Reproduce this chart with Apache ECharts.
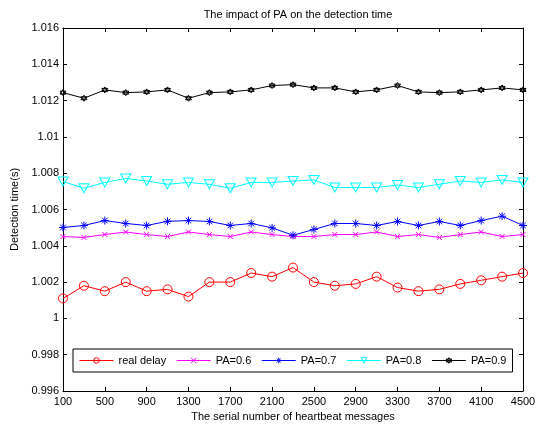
<!DOCTYPE html>
<html>
<head>
<meta charset="utf-8">
<script src="https://cdn.jsdelivr.net/npm/echarts@6/dist/echarts.min.js"></script>
<style>
  html, body { margin: 0; padding: 0; background: #fff; }
  #chart { width: 550px; height: 430px; }
</style>
</head>
<body>
<div id="chart"></div>
<script>
// serial numbers of heartbeat messages
const messages = [100, 300, 500, 700, 900, 1100, 1300, 1500, 1700, 1900, 2100, 2300,
  2500, 2700, 2900, 3100, 3300, 3500, 3700, 3900, 4100, 4300, 4500];

const realDelay = [1.0011, 1.0018, 1.0015, 1.0020, 1.0015, 1.0016, 1.0012, 1.0020, 1.0020, 1.0025, 1.0023, 1.0028,
  1.0020, 1.0018, 1.0019, 1.0023, 1.0017, 1.0015, 1.0016, 1.0019, 1.0021, 1.0023, 1.0025];
const pa06 = [1.00451, 1.00446, 1.00462, 1.00476, 1.00462, 1.00451, 1.00476, 1.00462, 1.00451, 1.00476, 1.00462, 1.00451,
  1.00451, 1.00462, 1.00462, 1.00476, 1.00451, 1.00462, 1.00446, 1.00462, 1.00476, 1.00451, 1.00462];
const pa07 = [1.00501, 1.00512, 1.00539, 1.00523, 1.00512, 1.00535, 1.00539, 1.00534, 1.00512, 1.00523, 1.00499, 1.00458,
  1.00490, 1.00523, 1.00523, 1.00512, 1.00534, 1.00512, 1.00534, 1.00512, 1.00539, 1.00563, 1.00512];
const pa08 = [1.00754, 1.00717, 1.00749, 1.00771, 1.00757, 1.00739, 1.00749, 1.00739, 1.00717, 1.00749, 1.00749, 1.00757,
  1.00763, 1.00721, 1.00721, 1.00721, 1.00735, 1.00721, 1.00739, 1.00757, 1.00749, 1.00763, 1.00749];
const pa09 = [1.01244, 1.01213, 1.01259, 1.01244, 1.01248, 1.01259, 1.01213, 1.01244, 1.01248, 1.01259, 1.01283, 1.01288,
  1.01270, 1.01270, 1.01248, 1.01259, 1.01283, 1.01248, 1.01244, 1.01248, 1.01259, 1.01270, 1.01259];

const font = "'Liberation Sans', Arial, sans-serif";

function makeSeries(name, data, color, symbol, size) {
  return {
    name: name,
    type: "line",
    data: data,
    symbol: symbol,
    symbolSize: size,
    showAllSymbol: true,
    lineStyle: { color: color, width: 1 },
    itemStyle: { color: "rgba(255,255,255,0)", borderColor: color, borderWidth: 1 },
    emphasis: { disabled: true },
    animation: false,
  };
}

const chart = echarts.init(document.getElementById("chart"));
const tickStyle = { show: true, inside: true, length: 4, lineStyle: { color: "#000" } };

chart.setOption({
  backgroundColor: "#fff",
  title: {
    text: "The impact of PA on the detection time",
    left: 293,
    textAlign: "center",
    top: 4,
    textStyle: { fontFamily: font, fontSize: 11, fontWeight: "normal", color: "#000" },
  },
  legend: {
    left: 73,
    top: 349,
    padding: [6, 6, 6, 6],
    itemWidth: 34,
    itemHeight: 7,
    itemGap: 10,
    borderColor: "#000",
    borderWidth: 1,
    backgroundColor: "#fff",
    lineStyle: { width: 1 },
    itemStyle: { borderWidth: 1 },
    textStyle: { fontFamily: font, fontSize: 11, color: "#000" },
  },
  grid: { left: 63, right: 27, top: 28, bottom: 39, show: false },
  xAxis: [
    {
      type: "category",
      data: messages,
      boundaryGap: false,
      name: "The serial number of heartbeat messages",
      nameLocation: "middle",
      nameGap: 20,
      nameTextStyle: { fontFamily: font, fontSize: 11, color: "#000" },
      axisLine: { lineStyle: { color: "#000", width: 1 } },
      axisTick: Object.assign({ interval: 1 }, tickStyle),
      axisLabel: { interval: 1, fontFamily: font, fontSize: 11, color: "#000", margin: 5 },
      splitLine: { show: false },
    },
    {
      type: "category",
      data: messages,
      boundaryGap: false,
      position: "top",
      axisLine: { lineStyle: { color: "#000", width: 1 } },
      axisTick: Object.assign({ interval: 1 }, tickStyle),
      axisLabel: { show: false },
      splitLine: { show: false },
    },
  ],
  yAxis: [
    {
      type: "value",
      min: 0.996,
      max: 1.016,
      interval: 0.002,
      name: "Detection time(s)",
      nameLocation: "middle",
      nameGap: 41,
      nameTextStyle: { fontFamily: font, fontSize: 11, color: "#000" },
      axisLine: { show: true, lineStyle: { color: "#000", width: 1 } },
      axisTick: tickStyle,
      axisLabel: {
        fontFamily: font, fontSize: 11, color: "#000", margin: 4,
        formatter: (v) => String(parseFloat(v.toFixed(3))),
      },
      splitLine: { show: false },
    },
    {
      type: "value",
      min: 0.996,
      max: 1.016,
      interval: 0.002,
      position: "right",
      axisLine: { show: true, lineStyle: { color: "#000", width: 1 } },
      axisTick: tickStyle,
      axisLabel: { show: false },
      splitLine: { show: false },
    },
  ],
  series: [
    makeSeries("real delay", realDelay, "#ff0000", "circle", 9),
    makeSeries("PA=0.6", pa06, "#ff00ff", "path://M0,0L10,10M10,0L0,10", 5),
    makeSeries("PA=0.7", pa07, "#0000ff", "path://M5,0L5,10M0,5L10,5M1.5,1.5L8.5,8.5M8.5,1.5L1.5,8.5", 8),
    makeSeries("PA=0.8", pa08, "#00ffff", "path://M0,0L10,0L5,9Z", [10, 9]),
    makeSeries("PA=0.9", pa09, "#000000", "path://M5,0L9.33,7.5L0.67,7.5ZM5,10L0.67,2.5L9.33,2.5Z", 6),
  ],
});
</script>
</body>
</html>
